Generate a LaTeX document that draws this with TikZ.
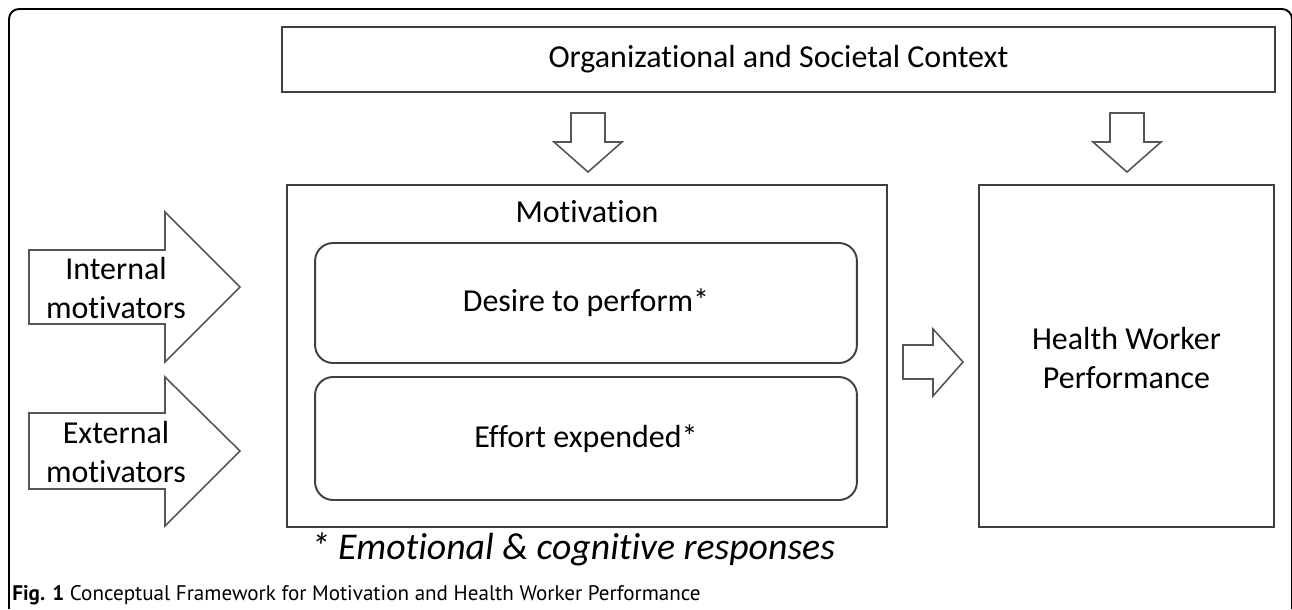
\documentclass[tikz,border=0pt]{standalone}
\usepackage{fontspec}
\setmainfont{Carlito}[Ligatures=NoCommon]
\newfontfamily\capfont{PT Sans}
\usetikzlibrary{positioning}
\definecolor{boxgray}{HTML}{404040}
\definecolor{arrowgray}{HTML}{555555}
\tikzset{
  framebox/.style={rectangle, draw=boxgray, line width=1.1pt, align=center, inner sep=0pt},
  roundbox/.style={framebox, rounded corners=0.36cm},
  blockarrow/.style={draw=arrowgray, line width=0.9pt, line join=miter, fill=white},
  label/.style={align=center, font=\fontsize{18.2}{22}\selectfont, inner sep=0pt}
}

\begin{document}
\begin{tikzpicture}[x=0.02cm, y=-0.02cm]
        \useasboundingbox (0,0) rectangle (1292,609);

        % === marco exterior ===
        \draw [line width=1.1pt, rounded corners=0.2cm] (9,609) -- (9,9) -- (1292,9) -- (1292,609);

        % === cajas ===
        \node (context) [framebox, minimum width=19.86cm, minimum height=1.3cm] at (778.5,59.5) {};
        \node (motiv) [framebox, minimum width=12cm, minimum height=6.84cm] at (587,356) {};
        \node (perf) [framebox, minimum width=5.9cm, minimum height=6.84cm] at (1126.5,356) {};
        \node (desire) [roundbox, minimum width=10.84cm, minimum height=2.4cm] at (586,303) {};
        \node (effort) [roundbox, minimum width=10.84cm, minimum height=2.46cm] at (586,438.5) {};

        % === textos ===
        \node (contexttxt) [label] at (context.center) {Organizational and Societal Context};
        \node (motivtxt) [label] at (587,212) {Motivation};
        \node (desiretxt) [label] at (desire.center) {Desire to perform*};
        \node (efforttxt) [label] at (effort.center) {Effort expended*};
        \node (perftxt) [label] at (1126.5,358) {Health Worker\\Performance};

        % === flechas de bloque ===
        \draw [blockarrow] (29,250) -- (165,250) -- (165,212) -- (240,287) -- (165,362) -- (165,324) -- (29,324) -- cycle;
        \draw [blockarrow] (29,413) -- (165,413) -- (165,377) -- (240,451) -- (165,526) -- (165,489) -- (29,489) -- cycle;
        \draw [blockarrow] (571,113) -- (605,113) -- (605,142) -- (622,142) -- (588,172) -- (554,142) -- (571,142) -- cycle;
        \draw [blockarrow] (1110,113) -- (1144,113) -- (1144,142) -- (1161,142) -- (1127,172) -- (1093,142) -- (1110,142) -- cycle;
        \draw [blockarrow] (903,345) -- (933,345) -- (933,329) -- (963,362) -- (933,396) -- (933,379) -- (903,379) -- cycle;
        \node (internal) [label] at (116,288) {Internal\\motivators};
        \node (external) [label] at (116,452) {External\\motivators};

        % === notas ===
        \node (note) [label, font=\fontsize{21.5}{25}\selectfont\itshape] at (573,549) {* Emotional \& cognitive responses};
        \node (caption) [anchor=base west, inner sep=0pt, font=\capfont\fontsize{12}{14}\selectfont] at (12,600) {\textbf{Fig. 1} Conceptual Framework for Motivation and Health Worker Performance};

    \end{tikzpicture}
\end{document}
